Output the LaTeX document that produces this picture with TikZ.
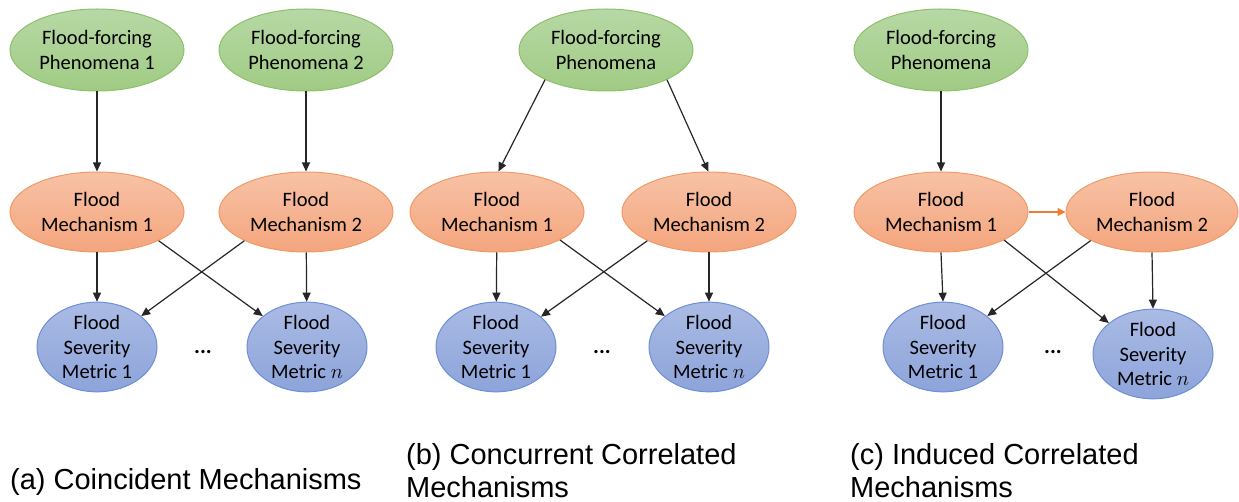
\documentclass[tikz,border=0pt]{standalone}
\usepackage{fontspec}
\setmainfont{Carlito}
\newfontfamily\capfont{Liberation Sans}
\usetikzlibrary{shapes.geometric,arrows.meta}
\definecolor{gtop}{HTML}{B7D8A5}
\definecolor{gbot}{HTML}{A0CB84}
\definecolor{gline}{HTML}{8DC06A}
\definecolor{otop}{HTML}{F7C2A6}
\definecolor{obot}{HTML}{F4A57D}
\definecolor{oline}{HTML}{F09A66}
\definecolor{btop}{HTML}{AABBE4}
\definecolor{bbot}{HTML}{8DA4DA}
\definecolor{bline}{HTML}{6E8ED6}
\definecolor{arr}{HTML}{262626}
\definecolor{oarr}{HTML}{ED7D31}
\tikzset{
  base node/.style={ellipse, inner sep=0pt, align=center, text=black,
    font=\fontsize{20.5}{24.5}\selectfont, line width=1pt},
  phen/.style={base node, draw=gline, top color=gtop, bottom color=gbot,
    minimum width=174pt, minimum height=82pt},
  mech/.style={base node, draw=oline, top color=otop, bottom color=obot,
    minimum width=174pt, minimum height=80pt},
  sev/.style={base node, draw=bline, top color=btop, bottom color=bbot,
    minimum width=120pt, minimum height=82pt},
  link/.style={draw=arr, line width=1.2pt, -{Triangle[length=9pt,width=8pt]}},
  olink/.style={draw=oarr, line width=1.2pt, -{Triangle[length=8pt,width=8pt]}},
  dotnode/.style={inner sep=0pt, font=\fontsize{22}{24.5}\selectfont\bfseries},
  captext/.style={anchor=base west, inner sep=0pt, font=\capfont\fontsize{29}{33}\selectfont}
}
\begin{document}
\begin{tikzpicture}[x=1pt,y=-1pt]
\useasboundingbox (0,0) rectangle (1239,502);
% ---- panel (a)
\node[phen] (ap1) at (97,50) {Flood-forcing\\Phenomena 1};
\node[phen] (ap2) at (306,50) {Flood-forcing\\Phenomena 2};
\node[mech] (am1) at (97,212) {Flood\\Mechanism 1};
\node[mech] (am2) at (306,212) {Flood\\Mechanism 2};
\node[sev] (as1) at (97,347) {Flood\\Severity\\Metric 1};
\node[sev] (asn) at (307,347) {Flood\\Severity\\Metric $n$};
\node[dotnode] (ad) at (203,352) {...};
\draw[link] (ap1) -- (am1);
\draw[link] (ap2) -- (am2);
\draw[link] (am1) -- (as1);
\draw[link] (am2) -- (asn);
\draw[link] (am1.-25) -- (asn.145);
\draw[link] (am2.-155) -- (as1.35);
% ---- panel (b)
\node[phen] (bp) at (606,50) {Flood-forcing\\Phenomena};
\node[mech] (bm1) at (497,212) {Flood\\Mechanism 1};
\node[mech] (bm2) at (709,212) {Flood\\Mechanism 2};
\node[sev] (bs1) at (496,347) {Flood\\Severity\\Metric 1};
\node[sev] (bsn) at (709,347) {Flood\\Severity\\Metric $n$};
\node[dotnode] (bd) at (602,352) {...};
\draw[link] (bp.-154) -- (bm1.88);
\draw[link] (bp.-26) -- (bm2.91);
\draw[link] (bm1) -- (bs1);
\draw[link] (bm2) -- (bsn);
\draw[link] (bm1.-24) -- (bsn.145);
\draw[link] (bm2.-155) -- (bs1.34);
% ---- panel (c)
\node[phen] (cp) at (941,50) {Flood-forcing\\Phenomena};
\node[mech] (cm1) at (941,212) {Flood\\Mechanism 1};
\node[mech, minimum width=172pt] (cm2) at (1152,212) {Flood\\Mechanism 2};
\node[sev] (cs1) at (943,347) {Flood\\Severity\\Metric 1};
\node[sev] (csn) at (1153,354) {Flood\\Severity\\Metric $n$};
\node[dotnode] (cd) at (1053,352) {...};
\draw[link] (cp) -- (cm1);
\draw[olink] (cm1.east) -- (cm2.west);
\draw[link] (cm1.south) -- (cs1.north);
\draw[link] (cm2.south) -- (csn.north);
\draw[link] (cm1.-24) -- (csn.145);
\draw[link] (cm2.-155) -- (cs1.35);
% ---- captions
\node[captext] (capa) at (10,489) {(a) Coincident Mechanisms};
\node[captext] (capb) at (406,464) {\parbox[t]{360pt}{(b) Concurrent Correlated\\Mechanisms}};
\node[captext] (capc) at (850,464) {\parbox[t]{360pt}{(c) Induced Correlated\\Mechanisms}};
\end{tikzpicture}
\end{document}
